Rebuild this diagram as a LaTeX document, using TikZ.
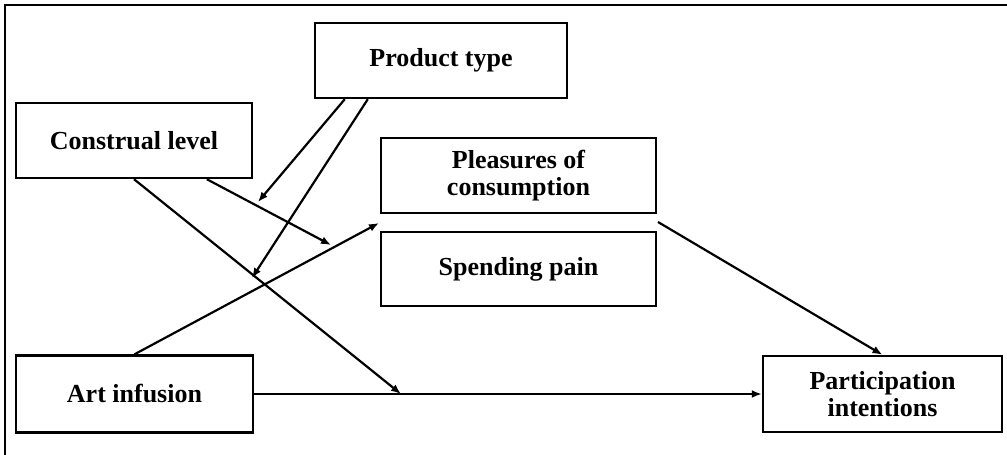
\documentclass[tikz,border=0pt]{standalone}
\usepackage{fontspec}
\setmainfont{Liberation Serif}
\usetikzlibrary{calc,arrows.meta}
\begin{document}
\begin{tikzpicture}[x=0.5pt,y=-0.5pt,
  box/.style={draw=\cLine, line width=1.2pt, minimum height=37.5pt, align=center,
    text=\cText, font=\fontsize{13}{13.5}\selectfont\bfseries},
  arr/.style={draw=\cLine, line width=1.1pt, -{Latex[length=5pt,width=4pt]}}]
\def\cLine{black}
\def\cText{black}
\useasboundingbox (0,0) rectangle (1007,455);
% frame
\draw[\cLine, line width=1.3pt] (5,455) -- (5,5) -- (1007,5);
% variables
\node[box, minimum width=126pt] (prod) at (441,60.5) {Product type};
\node[box, minimum width=118pt] (constr) at (134,140.5) {Construal level};
\node[box, minimum width=137.5pt] (pleas) at (518.5,175.5) {Pleasures of\\consumption};
\node[box, minimum width=137.5pt, minimum height=37pt] (spend) at (518.5,269) {Spending pain};
\node[box, minimum width=118.5pt, minimum height=38.5pt] (art) at (134.5,394) {Art infusion};
\node[box, minimum width=119.5pt, minimum height=38pt] (part) at (882.5,394) {Participation\\intentions};
% arrow ends
\coordinate (medL) at (379,223);
\coordinate (medR) at (658,222);
\coordinate (modA) at (258,202);
\coordinate (modB) at (252,278);
\coordinate (modC) at (331,245);
\coordinate (modD) at (401,394);
\coordinate (constr2) at ($(constr.south west)+(192,0)$);
\coordinate (prod1) at ($(prod.south west)+(31,0)$);
\coordinate (prod2) at ($(prod.south west)+(54,0)$);
% paths
\draw[arr] (art.east) -- (part.west);
\draw[arr] (art.north) -- (medL);
\draw[arr] (medR) -- (part.north);
\draw[arr] (constr.south) -- (modD);
\draw[arr] (constr2) -- (modC);
\draw[arr] (prod1) -- (modA);
\draw[arr] (prod2) -- (modB);
\end{tikzpicture}
\end{document}
